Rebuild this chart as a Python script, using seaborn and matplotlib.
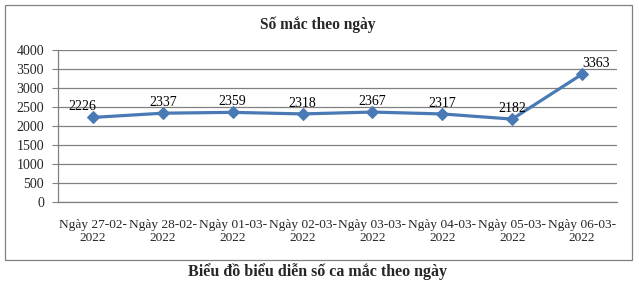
import matplotlib
matplotlib.use("Agg")
import matplotlib.pyplot as plt
import seaborn as sns
import pandas as pd
from matplotlib.patches import Rectangle

categories = ["Ngày 27-02-\n2022", "Ngày 28-02-\n2022", "Ngày 01-03-\n2022", "Ngày 02-03-\n2022",
              "Ngày 03-03-\n2022", "Ngày 04-03-\n2022", "Ngày 05-03-\n2022", "Ngày 06-03-\n2022"]
values = [2226, 2337, 2359, 2318, 2367, 2317, 2182, 3363]
yticks = [0, 500, 1000, 1500, 2000, 2500, 3000, 3500, 4000]

sns.set_style("white")
plt.rcParams['font.family'] = ['Liberation Serif', 'DejaVu Serif']

df = pd.DataFrame({"x": list(range(len(categories))), "v": values})

fig = plt.figure(figsize=(6.39, 2.85), dpi=100)
ax = fig.add_axes([58/639, 1-202/285, (617-58)/639, (202-50)/285])

sns.lineplot(data=df, x="x", y="v", ax=ax, color="#4A7AB5", linewidth=2.3,
             marker="D", markersize=6, markeredgecolor="#4A7AB5", zorder=3)

for i, v in enumerate(values):
    dx = 0.2 if i == len(values) - 1 else (-0.15 if i == 0 else 0)
    ax.annotate(str(v), (i + dx, v), xytext=(0, 3), textcoords="offset points",
                ha="center", va="bottom", fontsize=10, color="black")

ax.set_xlim(-0.5, len(categories) - 0.5)
ax.set_ylim(0, 4000)
ax.set_yticks(yticks)
ax.set_yticklabels([str(t) for t in yticks], fontsize=10)
ax.set_xticks(range(len(categories)))
ax.set_xticklabels(categories, fontsize=9.6, linespacing=1.15)
ax.set_xticks([i - 0.5 for i in range(len(categories) + 1)], minor=True)
ax.tick_params(axis="x", which="major", length=0, pad=12)
ax.tick_params(axis="x", which="minor", length=4, color="#808080", direction="out")
ax.tick_params(axis="y", which="major", length=4, color="#808080", direction="out", pad=6, left=True)
ax.set_xlabel("")
ax.set_ylabel("")
ax.yaxis.grid(True, color="#808080", linewidth=0.9)
ax.set_axisbelow(True)
for s in ["top", "right"]:
    ax.spines[s].set_visible(False)
for s in ["left", "bottom"]:
    ax.spines[s].set_color("#808080")
    ax.spines[s].set_linewidth(0.9)

fig.text(318/639, 1-25/285, "Số mắc theo ngày", ha="center", va="center",
         fontsize=11.2, fontweight="bold")
fig.text(318/639, 1-272/285, "Biểu đồ biểu diễn số ca mắc theo ngày", ha="center", va="center",
         fontsize=11.5, fontweight="bold")

fig.patches.append(Rectangle((5/639, 1-260/285), (632-5)/639, (260-5)/285,
                             transform=fig.transFigure, fill=False, edgecolor="#808080",
                             linewidth=0.9))

fig.savefig("out.png", dpi=100)
